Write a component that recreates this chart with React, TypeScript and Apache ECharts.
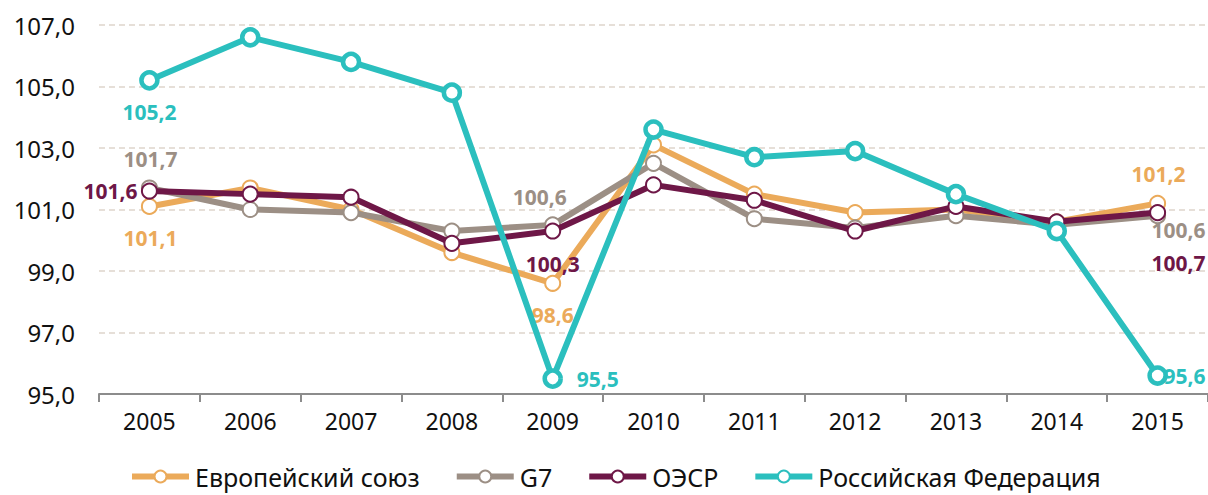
import React, { useEffect, useRef } from "react";
import * as echarts from "echarts";

const years = ["2005", "2006", "2007", "2008", "2009", "2010", "2011", "2012", "2013", "2014", "2015"];
const euValues = [101.1, 101.7, 101.0, 99.6, 98.6, 103.1, 101.5, 100.9, 101.0, 100.6, 101.2];
const g7Values = [101.7, 101.0, 100.9, 100.3, 100.5, 102.5, 100.7, 100.4, 100.8, 100.5, 100.8];
const oecdValues = [101.6, 101.5, 101.4, 99.9, 100.3, 101.8, 101.3, 100.3, 101.1, 100.6, 100.9];
const ruValues = [105.2, 106.6, 105.8, 104.8, 95.5, 103.6, 102.7, 102.9, 101.5, 100.3, 95.6];

// printed labels (index -> text)
const euLabels: Record<number, string> = { 0: "101,1", 4: "98,6", 10: "101,2" };
const g7Labels: Record<number, string> = { 0: "101,7", 4: "100,6", 10: "100,6" };
const oecdLabels: Record<number, string> = { 0: "101,6", 4: "100,3", 10: "100,7" };
const ruLabels: Record<number, string> = { 0: "105,2", 4: "95,5", 10: "95,6" };

const yTicks = [95, 97, 99, 101, 103, 105, 107];

const seriesNames = ["Европейский союз", "G7", "ОЭСР", "Российская Федерация"];
const colors = ["#EBAA5A", "#9C8F85", "#6E1747", "#2BBFBE"];

const euOffsets: Record<number, number[]> = { 0: [1, 32], 4: [0, 32], 10: [1, -29] };
const g7Offsets: Record<number, number[]> = { 0: [1, -29], 4: [-13, -28], 10: [21, 14] };
const oecdOffsets: Record<number, number[]> = { 0: [-39, 0], 4: [0, 33], 10: [21, 50] };
const ruOffsets: Record<number, number[]> = { 0: [0, 32], 4: [45, 0], 10: [27, 0] };

const FONT = "'Noto Sans', sans-serif";

function buildData(values: number[], labels: Record<number, string>, offsets: Record<number, number[]>, color: string) {
  return values.map((v, i) => {
    if (labels[i] === undefined) return { value: v };
    return {
      value: v,
      label: {
        show: true,
        position: "inside",
        offset: offsets[i],
        formatter: labels[i],
        color,
        fontSize: 21,
        fontWeight: "bold",
        fontFamily: FONT,
        align: "center",
        verticalAlign: "middle",
      },
    };
  });
}

export default function App() {
  const ref = useRef<HTMLDivElement>(null);
  useEffect(() => {
    if (!ref.current) return;
    const chart = echarts.init(ref.current, undefined, { renderer: "svg" });
    const mk = (idx: number, values: number[], labels: Record<number, string>, offsets: Record<number, number[]>, big: boolean) => ({
      name: seriesNames[idx],
      type: "line",
      data: buildData(values, labels, offsets, colors[idx]),
      symbol: "circle",
      symbolSize: big ? 16 : 15,
      showAllSymbol: true,
      lineStyle: { color: colors[idx], width: 6 },
      itemStyle: { color: "#ffffff", borderColor: colors[idx], borderWidth: big ? 4.5 : 2 },
      z: 2 + idx,
      emphasis: { disabled: true },
    });
    chart.setOption({
      animation: false,
      backgroundColor: "#ffffff",
      grid: { left: 99, top: 25, width: 1110, bottom: 101, containLabel: false },
      legend: {
        bottom: 1,
        left: 124,
        itemWidth: 57,
        itemHeight: 15,
        itemGap: 34,
        data: seriesNames,
        lineStyle: { width: 6 },
        textStyle: { fontSize: 25, fontFamily: FONT, color: "#111111", padding: [0, 0, 0, 1] },
      },
      xAxis: {
        type: "category",
        data: years,
        boundaryGap: true,
        axisLine: { lineStyle: { color: "#8C8C8C", width: 2 } },
        axisTick: { show: true, length: 8, lineStyle: { color: "#8C8C8C", width: 2 } },
        axisLabel: { fontSize: 23, fontFamily: FONT, color: "#111111", margin: 15 },
      },
      yAxis: {
        type: "value",
        min: yTicks[0],
        max: yTicks[yTicks.length - 1],
        interval: 2,
        axisLine: { show: false },
        axisTick: { show: false },
        axisLabel: {
          fontSize: 24,
          fontFamily: FONT,
          color: "#111111",
          margin: 24,
          formatter: (v: number) => v.toFixed(1).replace(".", ","),
        },
        splitLine: { lineStyle: { color: "#E6DFD8", type: [6, 4], width: 2 } },
      },
      series: [
        mk(0, euValues, euLabels, euOffsets, false),
        mk(1, g7Values, g7Labels, g7Offsets, false),
        mk(2, oecdValues, oecdLabels, oecdOffsets, false),
        mk(3, ruValues, ruLabels, ruOffsets, true),
      ],
    });
    return () => chart.dispose();
  }, []);
  return <div ref={ref} style={{ width: 1208, height: 495, position: "absolute", left: 0, top: 0 }} />;
}
